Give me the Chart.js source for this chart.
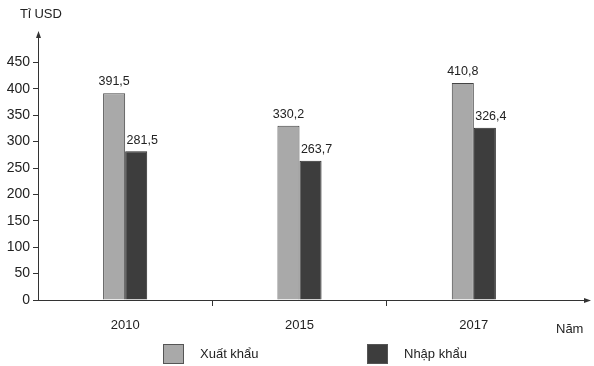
<!DOCTYPE html>
<html>
<head>
<meta charset="utf-8">
<script src="https://cdn.jsdelivr.net/npm/chart.js@4"></script>
<style>
  html, body { margin: 0; padding: 0; background: #fff; }
</style>
</head>
<body>
<canvas id="chart" width="594" height="366"></canvas>
<script>
const years = ['2010', '2015', '2017'];
const exportValues = [391.5, 330.2, 410.8];
const importValues = [281.5, 263.7, 326.4];
const seriesNames = ['Xuất khẩu', 'Nhập khẩu'];
const yTicks = [0, 50, 100, 150, 200, 250, 300, 350, 400, 450];

const font = 'Liberation Sans, Arial, sans-serif';
const ink = '#333';
const clear = 'rgba(0,0,0,0)';

const fmt = v => v.toFixed(1).replace('.', ',');

// value labels, axis arrows, unit texts and legend
const decor = {
    id: 'decor',
    afterDatasetsDraw(chart) {
        const ctx = chart.ctx;
        ctx.save();
        ctx.fillStyle = '#222';
        ctx.font = '12.5px ' + font;
        ctx.textAlign = 'center';
        ctx.textBaseline = 'bottom';
        chart.data.datasets.forEach((ds, di) => {
            chart.getDatasetMeta(di).data.forEach((bar, i) => {
                const dx = di === 1 ? 6 : 0;
                ctx.fillText(fmt(ds.data[i]), bar.x + dx, bar.y - 5);
            });
        });
        ctx.restore();
    },
    afterDraw(chart) {
        const ctx = chart.ctx;
        const a = chart.chartArea;
        ctx.save();
        ctx.strokeStyle = ink;
        ctx.fillStyle = ink;
        ctx.lineWidth = 1;
        // x axis extension + arrow
        ctx.beginPath();
        ctx.moveTo(a.right, a.bottom + 0.5);
        ctx.lineTo(588, a.bottom + 0.5);
        ctx.stroke();
        ctx.beginPath();
        ctx.moveTo(591, a.bottom + 0.5);
        ctx.lineTo(584, a.bottom - 2);
        ctx.lineTo(584, a.bottom + 3);
        ctx.closePath();
        ctx.fill();
        // y axis arrow
        ctx.beginPath();
        ctx.moveTo(a.left + 0.5, a.top);
        ctx.lineTo(a.left + 0.5, 34);
        ctx.stroke();
        ctx.beginPath();
        ctx.moveTo(a.left + 0.5, 31);
        ctx.lineTo(a.left - 2, 38);
        ctx.lineTo(a.left + 3, 38);
        ctx.closePath();
        ctx.fill();

        ctx.fillStyle = '#222';
        ctx.font = '13px ' + font;
        ctx.textBaseline = 'middle';
        ctx.textAlign = 'left';
        ctx.fillText('Tỉ USD', 20, 14);
        ctx.fillText('Năm', 556, 329);

        // legend
        const xs = [163, 367];
        chart.data.datasets.forEach((ds, i) => {
            ctx.fillStyle = ds.backgroundColor;
            ctx.fillRect(xs[i], 344, 20, 19);
            ctx.strokeStyle = '#555';
            ctx.strokeRect(xs[i] + 0.5, 344.5, 20, 19);
            ctx.fillStyle = '#222';
            ctx.fillText(ds.label, xs[i] + 37, 354);
        });
        ctx.restore();
    }
};

new Chart(document.getElementById('chart'), {
    type: 'bar',
    data: {
        labels: years,
        datasets: [{
            label: seriesNames[0],
            data: exportValues,
            backgroundColor: '#a9a9a9',
            borderColor: '#444',
            borderWidth: 1,
            categoryPercentage: 0.253,
            barPercentage: 1
        }, {
            label: seriesNames[1],
            data: importValues,
            backgroundColor: '#3d3d3d',
            borderColor: '#2a2a2a',
            borderWidth: 1,
            categoryPercentage: 0.253,
            barPercentage: 1
        }]
    },
    options: {
        responsive: false,
        animation: false,
        devicePixelRatio: 1,
        layout: { padding: { top: 36, right: 33, left: 0, bottom: 0 } },
        plugins: {
            legend: { display: false },
            tooltip: { enabled: false }
        },
        scales: {
            x: {
                afterFit: s => { s.height = 66; },
                border: { display: true, color: ink, width: 1 },
                grid: {
                    drawOnChartArea: false,
                    tickLength: 6,
                    offset: true,
                    color: c => (c.index === 0 || !c.tick) ? clear : ink
                },
                ticks: { color: '#222', font: { family: font, size: 13 }, padding: 12 }
            },
            y: {
                min: 0,
                max: 500,
                afterFit: s => { s.width = 38; },
                afterBuildTicks: s => {
                    s.ticks = yTicks.concat([500]).map(v => ({ value: v }));
                },
                border: { display: true, color: ink, width: 1 },
                grid: {
                    drawOnChartArea: false,
                    tickLength: 5,
                    color: c => (c.tick && c.tick.value === 500) ? clear : ink
                },
                ticks: {
                    color: '#222',
                    autoSkip: false,
                    font: { family: font, size: 14 },
                    padding: 3,
                    callback: v => v === 500 ? '' : v
                }
            }
        }
    },
    plugins: [decor]
});
</script>
</body>
</html>
